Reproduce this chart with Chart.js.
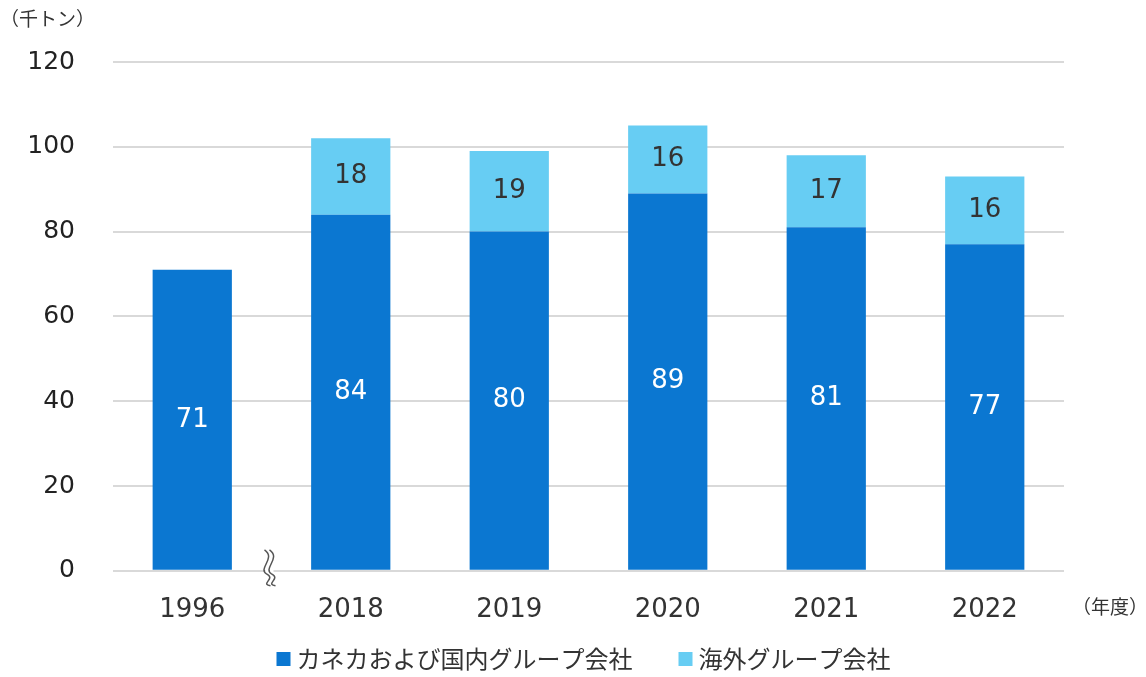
<!DOCTYPE html>
<html lang="ja">
<head>
<meta charset="utf-8">
<script src="https://cdn.jsdelivr.net/npm/chart.js@4.4.1/dist/chart.umd.min.js"></script>
<style>
  html, body { margin: 0; padding: 0; background: #fff; }
  #wrap { width: 1146px; height: 677px; position: relative; }
</style>
</head>
<body>
<div id="wrap"><canvas id="chart"></canvas></div>
<script>
// 年度別の生産量（千トン）
const years = ["1996", "2018", "2019", "2020", "2021", "2022"];
const domestic = [71, 84, 80, 89, 81, 77];
const overseas = [null, 18, 19, 16, 17, 16];
const yTicks = [0, 20, 40, 60, 80, 100, 120];

const DARK = "#0b77d1";
const LIGHT = "#67cdf3";
const FONT = "'DejaVu Sans', Verdana, sans-serif";
const JP_FONT = "'Noto Sans CJK JP', sans-serif";

// 棒の中央に値を描く
const barLabels = {
    id: 'barLabels',
    afterDatasetsDraw(chart) {
        const ctx = chart.ctx;
        ctx.save();
        ctx.font = "26px " + FONT;
        ctx.textAlign = "center";
        ctx.textBaseline = "middle";
        chart.data.datasets.forEach((ds, i) => {
            const meta = chart.getDatasetMeta(i);
            meta.data.forEach((bar, j) => {
                const v = ds.data[j];
                if (v == null) return;
                ctx.fillStyle = i === 0 ? "#ffffff" : "#333333";
                ctx.fillText(String(v), bar.x, (bar.y + bar.base) / 2);
            });
        });
        ctx.restore();
    }
};

// 単位表示、凡例、1996〜2018間の省略記号
const extras = {
    id: 'extras',
    afterDraw(chart) {
        const ctx = chart.ctx;
        const xs = chart.scales.x, ys = chart.scales.y;
        ctx.save();
        ctx.fillStyle = "#333333";
        ctx.font = "19px " + JP_FONT;
        ctx.textBaseline = "middle";
        ctx.textAlign = "left";
        ctx.fillText("（千トン）", 0, 19);
        ctx.fillText("（年度）", 1072, 607);

        // 凡例
        ctx.font = "24px " + JP_FONT;
        const box = 14, gapText = 6, gapItem = 46;
        const items = chart.data.datasets.map(ds => ({
            text: ds.label, color: ds.backgroundColor,
            w: box + gapText + ctx.measureText(ds.label).width
        }));
        const total = items.reduce((s, it) => s + it.w, 0) + gapItem * (items.length - 1);
        let lx = (chart.chartArea.left + chart.chartArea.right) / 2 - 5 - total / 2;
        const ly = 659;
        items.forEach(it => {
            ctx.fillStyle = it.color;
            ctx.fillRect(lx, ly - box / 2, box, box);
            ctx.fillStyle = "#333333";
            ctx.fillText(it.text, lx + box + gapText, ly);
            lx += it.w + gapItem;
        });

        // 波線の省略記号
        const cx = (xs.getPixelForValue(0) + xs.getPixelForValue(1)) / 2 - 2;
        const cy = ys.getPixelForValue(0);
        const wave = (dx) => {
            ctx.beginPath();
            ctx.moveTo(cx + dx - 3, cy - 21);
            ctx.bezierCurveTo(cx + dx + 9, cy - 13, cx + dx - 10, cy - 2, cx + dx - 1, cy + 3);
            ctx.bezierCurveTo(cx + dx + 9, cy + 8, cx + dx - 8, cy + 13, cx + dx + 3, cy + 15);
        };
        ctx.fillStyle = "#ffffff";
        ctx.fillRect(cx - 4, cy - 3, 8, 6);
        ctx.strokeStyle = "#555555";
        ctx.lineWidth = 1.5;
        wave(-2); ctx.stroke();
        wave(3); ctx.stroke();
        ctx.restore();
    }
};

new Chart(document.getElementById('chart'), {
    type: 'bar',
    data: {
        labels: years,
        datasets: [
            { label: "カネカおよび国内グループ会社", data: domestic, backgroundColor: DARK,
              barPercentage: 0.5, categoryPercentage: 1.0 },
            { label: "海外グループ会社", data: overseas, backgroundColor: LIGHT,
              barPercentage: 0.5, categoryPercentage: 1.0 }
        ]
    },
    options: {
        responsive: true,
        maintainAspectRatio: false,
        animation: false,
        layout: { padding: { top: 62, right: 82, left: 0, bottom: 35 } },
        scales: {
            x: {
                stacked: true,
                grid: { display: false },
                border: { display: false },
                ticks: { color: "#333", font: { family: FONT, size: 26 }, padding: 16 }
            },
            y: {
                stacked: true,
                min: 0, max: 120,
                afterBuildTicks(axis) { axis.ticks = yTicks.map(v => ({ value: v })); },
                afterFit(axis) { axis.width = 113; },
                grid: { color: "#d9d9d9", lineWidth: 2, drawTicks: false },
                border: { display: false },
                ticks: { color: "#222", font: { family: FONT, size: 25 }, padding: 38 }
            }
        },
        plugins: {
            legend: { display: false },
            tooltip: { enabled: false }
        }
    },
    plugins: [barLabels, extras]
});
</script>
</body>
</html>
